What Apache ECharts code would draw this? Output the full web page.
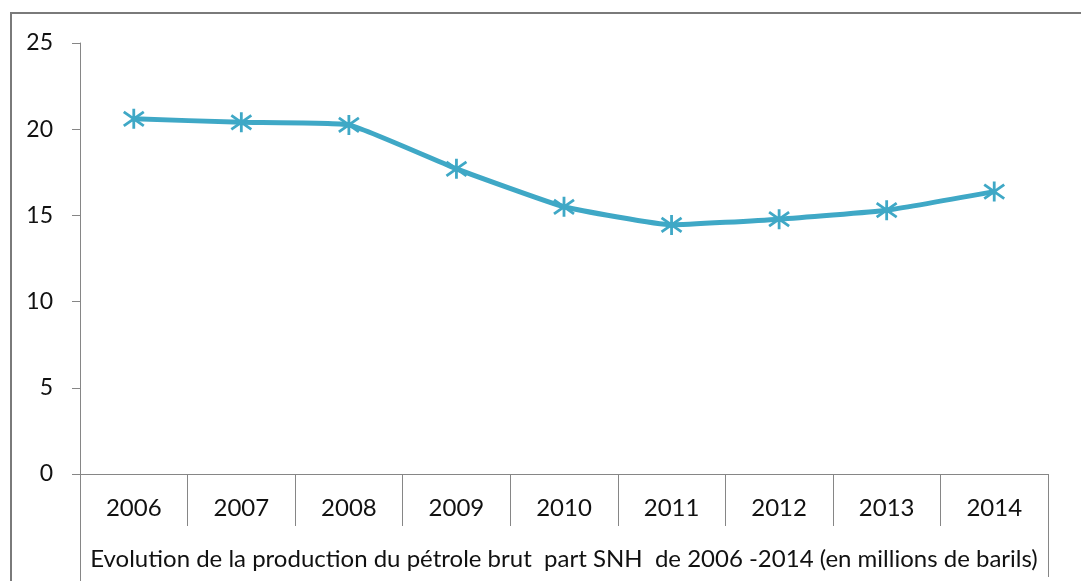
<!DOCTYPE html>
<html lang="fr">
<head>
    <meta charset="UTF-8">
    <title>Production pétrole brut SNH</title>
    <style>
        html, body { margin: 0; padding: 0; background: #fff; }
    </style>
</head>
<body>
    <div id="main" style="width: 1081px;height:581px;"></div>

    <script src="https://cdn.jsdelivr.net/npm/echarts@6/dist/echarts.min.js"></script>
    <script type="text/javascript">
        // données
        var annees = ['2006', '2007', '2008', '2009', '2010', '2011', '2012', '2013', '2014'];
        var production = [20.6, 20.4, 20.25, 17.7, 15.5, 14.45, 14.78, 15.3, 16.38];
        var titreAxe = 'Evolution de la production du pétrole brut  part SNH  de 2006 -2014 (en millions de barils)';

        var gris = '#868686';
        var bleu = '#3fa8c6';
        var police = 'Lato';

        var myChart = echarts.init(document.getElementById('main'));

        var option = {
            animation: false,
            grid: { left: 80, right: 33, top: 43, bottom: 107 },
            graphic: [
                // cadre extérieur
                { type: 'rect', shape: { x: 11, y: 13, width: 1100, height: 620 },
                  style: { fill: 'none', stroke: '#7a7a7a', lineWidth: 2 } },
                // bords du tableau sous l'axe
                { type: 'line', shape: { x1: 80.5, y1: 474, x2: 80.5, y2: 581 },
                  style: { stroke: gris, lineWidth: 1 } },
                { type: 'line', shape: { x1: 1048.5, y1: 474, x2: 1048.5, y2: 577 },
                  style: { stroke: gris, lineWidth: 1 } }
            ],
            xAxis: {
                type: 'category',
                data: annees,
                boundaryGap: true,
                axisLine: { lineStyle: { color: gris, width: 1 } },
                axisTick: { show: true, interval: 0, length: 52, lineStyle: { color: gris } },
                axisLabel: { color: '#111', fontFamily: police, fontSize: 24, margin: 22 },
                name: titreAxe,
                nameLocation: 'middle',
                nameGap: 73,
                nameTextStyle: { color: '#111', fontFamily: police, fontSize: 24 },
                splitLine: { show: false }
            },
            yAxis: {
                type: 'value',
                min: 0,
                max: 25,
                interval: 5,
                axisLine: { show: true, lineStyle: { color: gris, width: 1 } },
                axisTick: { show: true, length: 8, lineStyle: { color: gris } },
                axisLabel: { color: '#111', fontFamily: police, fontSize: 23, margin: 27 },
                splitLine: { show: false }
            },
            series: [
                {
                    type: 'line',
                    data: production,
                    smooth: 0.12,
                    symbol: 'path://M0,-10L0,10M-9,-7L9,7M-9,7L9,-7',
                    symbolSize: [20, 20],
                    lineStyle: { color: bleu, width: 5 },
                    itemStyle: { color: 'none', borderColor: bleu, borderWidth: 2.8 }
                }
            ]
        };
        myChart.setOption(option);
    </script>
</body>
</html>
